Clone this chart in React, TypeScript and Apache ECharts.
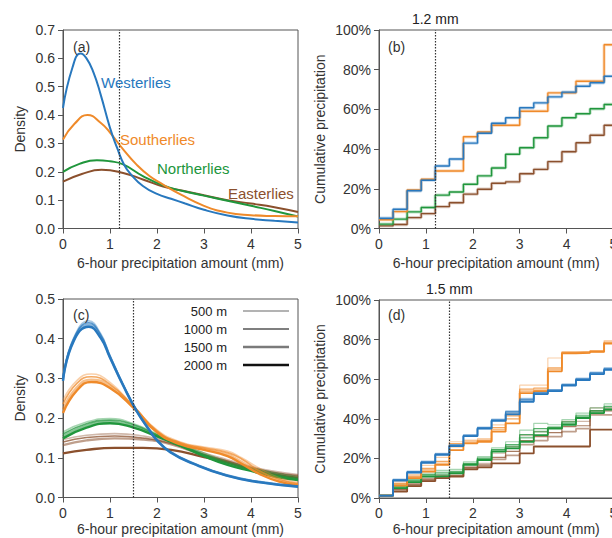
import React, { useEffect, useRef } from "react";
import * as echarts from "echarts";

// ---------- colours ----------
const C_W = "#2878be";
const C_S = "#ef8a2a";
const C_N = "#20963c";
const C_E = "#8b502d";

// ---------- panel (a): density by direction ----------
const A_W_X = [0, 0.2, 0.375, 0.5, 0.65, 0.8, 1.0, 1.15, 1.3, 1.45, 1.7, 2.0, 2.3, 2.6, 3.0, 3.5, 4.0, 4.5, 5.0];
const A_W_Y = [0.425, 0.567, 0.617, 0.6, 0.55, 0.473, 0.355, 0.285, 0.225, 0.19, 0.15, 0.122, 0.105, 0.088, 0.066, 0.046, 0.034, 0.027, 0.021];
const A_S_X = [0, 0.25, 0.52, 0.8, 1.0, 1.28, 1.56, 1.84, 2.13, 2.5, 3.0, 3.5, 4.0, 4.5, 5.0];
const A_S_Y = [0.314, 0.37, 0.4, 0.373, 0.338, 0.279, 0.226, 0.185, 0.155, 0.12, 0.08, 0.056, 0.047, 0.044, 0.043];
const A_N_X = [0, 0.35, 0.72, 1.0, 1.28, 1.7, 2.13, 2.55, 3.0, 3.5, 4.0, 4.5, 5.0];
const A_N_Y = [0.2, 0.228, 0.241, 0.237, 0.226, 0.185, 0.152, 0.132, 0.116, 0.098, 0.08, 0.062, 0.042];
const A_E_X = [0, 0.4, 0.82, 1.28, 1.7, 2.13, 2.55, 3.0, 3.5, 4.0, 4.5, 5.0];
const A_E_Y = [0.165, 0.192, 0.207, 0.196, 0.173, 0.148, 0.133, 0.117, 0.1, 0.088, 0.075, 0.058];

// ---------- panel (b): cumulative precipitation (%) per 0.3 mm bin ----------
const BIN_EDGES = [0, 0.3, 0.6, 0.9, 1.2, 1.5, 1.8, 2.1, 2.4, 2.7, 3.0, 3.3, 3.6, 3.9, 4.2, 4.5, 4.8];
const BIN_END = 5.1;
const B_W = [5.2, 9.7, 19, 24.3, 31.5, 35, 43, 48, 53, 55.8, 60.8, 63.3, 66.3, 68.7, 71.7, 73.4, 76.7];
const B_S = [4.4, 8.5, 19.4, 24.8, 29, 29, 46.2, 48.6, 52, 52, 59.1, 59.1, 68.3, 68.3, 74.2, 74.2, 92.6];
const B_N = [2.2, 4.7, 8.4, 10.6, 16.8, 18.4, 22.3, 26.5, 30.5, 37.4, 40.7, 45.7, 51.6, 55.8, 57.8, 60.3, 62.5];
const B_E = [1.3, 2, 5.5, 7.5, 11, 13, 17.3, 19.8, 22.8, 23.5, 27.6, 29.8, 33.7, 38.7, 43.2, 47, 52];

// ---------- panel (c): density by direction and height ----------
const HEIGHTS = ["500 m", "1000 m", "1500 m", "2000 m"];
const C_W_X = [0, 0.22, 0.55, 0.8, 1.0, 1.28, 1.56, 1.84, 2.0, 2.28, 2.77, 3.48, 4.19, 5.0];
const C_W_500 = [0.3, 0.4, 0.445, 0.413, 0.358, 0.285, 0.221, 0.171, 0.146, 0.116, 0.087, 0.057, 0.04, 0.029];
const C_W_1000 = [0.298, 0.398, 0.44, 0.41, 0.356, 0.284, 0.22, 0.17, 0.145, 0.115, 0.086, 0.056, 0.039, 0.028];
const C_W_1500 = [0.296, 0.395, 0.435, 0.406, 0.354, 0.283, 0.22, 0.17, 0.145, 0.115, 0.086, 0.056, 0.039, 0.028];
const C_W_2000 = [0.294, 0.392, 0.43, 0.402, 0.352, 0.282, 0.219, 0.169, 0.144, 0.114, 0.085, 0.055, 0.038, 0.027];
const C_S_X = [0, 0.3, 0.6, 1.0, 1.5, 2.0, 2.5, 3.0, 3.5, 3.8, 4.2, 4.6, 5.0];
const C_S_500 = [0.245, 0.295, 0.311, 0.29, 0.23, 0.17, 0.14, 0.127, 0.117, 0.1, 0.072, 0.05, 0.038];
const C_S_1000 = [0.235, 0.288, 0.304, 0.285, 0.23, 0.168, 0.138, 0.125, 0.113, 0.097, 0.066, 0.046, 0.035];
const C_S_1500 = [0.222, 0.278, 0.297, 0.28, 0.228, 0.166, 0.136, 0.122, 0.108, 0.09, 0.062, 0.043, 0.033];
const C_S_2000 = [0.213, 0.27, 0.291, 0.276, 0.226, 0.164, 0.134, 0.12, 0.104, 0.085, 0.058, 0.04, 0.031];
const C_N_X = [0, 0.5, 1.0, 1.5, 2.0, 2.5, 3.0, 3.5, 4.0, 4.5, 5.0];
const C_N_500 = [0.165, 0.19, 0.199, 0.186, 0.16, 0.135, 0.112, 0.09, 0.075, 0.062, 0.052];
const C_N_1000 = [0.16, 0.186, 0.195, 0.183, 0.158, 0.133, 0.108, 0.087, 0.072, 0.058, 0.048];
const C_N_1500 = [0.154, 0.181, 0.191, 0.179, 0.156, 0.131, 0.106, 0.084, 0.069, 0.055, 0.046];
const C_N_2000 = [0.149, 0.176, 0.187, 0.176, 0.154, 0.13, 0.104, 0.082, 0.067, 0.053, 0.044];
const C_E_X = [0, 0.5, 1.1, 1.7, 2.3, 3.0, 3.5, 4.0, 4.5, 5.0];
const C_E_500 = [0.146, 0.157, 0.161, 0.155, 0.14, 0.112, 0.095, 0.078, 0.066, 0.058];
const C_E_1000 = [0.14, 0.151, 0.155, 0.15, 0.136, 0.108, 0.092, 0.075, 0.063, 0.055];
const C_E_1500 = [0.132, 0.144, 0.149, 0.146, 0.134, 0.106, 0.09, 0.072, 0.06, 0.052];
const C_E_2000 = [0.111, 0.12, 0.125, 0.125, 0.12, 0.102, 0.088, 0.07, 0.058, 0.049];

// ---------- panel (d): cumulative precipitation (%) by direction and height ----------
const D_W_500 = [1.2, 9.6, 13.6, 18.6, 22.6, 27.0, 32.0, 35.8, 39.8, 44.0, 50.3, 53.4, 54.8, 57.6, 60.5, 63.6, 65.8];
const D_W_1000 = [1.2, 9.3, 13.3, 18.3, 22.3, 26.7, 31.7, 35.5, 39.5, 43.6, 49.8, 53.1, 54.5, 57.3, 60.2, 63.2, 65.4];
const D_W_1500 = [1.2, 9.0, 13.0, 18.0, 22.0, 26.4, 31.4, 35.2, 39.2, 43.0, 49.2, 52.8, 54.2, 57.0, 59.9, 62.9, 65.0];
const D_W_2000 = [1.2, 8.8, 12.8, 17.8, 21.8, 26.2, 31.2, 35.0, 39.0, 42.2, 48.6, 52.5, 54.0, 56.8, 59.6, 62.6, 64.7];
const D_S_500 = [1.2, 8.2, 11.8, 16.5, 20.5, 28.4, 29.3, 30, 36.9, 42.8, 57, 57, 70.7, 74, 74, 74.5, 79.5];
const D_S_1000 = [1.2, 7.4, 11, 15, 18.5, 27.5, 28.8, 29.2, 35.5, 41.5, 55, 55.5, 65.7, 73.5, 73.8, 74.2, 78.8];
const D_S_1500 = [1.2, 6.8, 10.5, 14.2, 17.5, 26, 28, 28.8, 34.5, 40, 54, 54.5, 65, 73.2, 73.5, 74, 78.3];
const D_S_2000 = [1.2, 6.2, 10, 13.3, 16.7, 24.2, 27.6, 28.4, 33.5, 37.7, 53, 54, 64, 73, 73.3, 73.8, 78];
const D_N_500 = [1.2, 6.6, 9.5, 12.6, 14, 14.5, 18.3, 20.9, 25.3, 28.4, 34.3, 37.7, 37, 39.6, 42.9, 45.5, 47.5];
const D_N_1000 = [1.2, 6.0, 9.0, 11.8, 13, 13.5, 17.5, 20.2, 24.5, 27, 32, 35, 35.8, 38.5, 41.8, 44.2, 46.3];
const D_N_1500 = [1.2, 5.5, 8.5, 11.2, 12, 13, 17, 19.8, 24, 26, 30.5, 33.5, 35.4, 37.8, 41, 43.5, 45.2];
const D_N_2000 = [1.2, 5.0, 8.0, 10.8, 11, 12.5, 16.7, 19.2, 23.4, 25.1, 28.4, 31.8, 35, 37, 40.4, 42.9, 44.6];
const D_E_500 = [1.2, 4.9, 7.2, 10, 11.5, 11.6, 15.8, 17.5, 22.6, 25.9, 31.8, 33.5, 35.4, 38.7, 38.7, 45.5, 45.5];
const D_E_1000 = [1.2, 4.3, 7, 9.5, 11, 11.5, 15.3, 16.8, 20.5, 23.5, 29, 31, 33, 36, 36.5, 44, 44];
const D_E_1500 = [1.2, 3.8, 6.5, 9, 10.5, 11, 15, 16.2, 19.5, 21.5, 27, 29, 31, 33.5, 35, 42, 42];
const D_E_2000 = [1.2, 3.2, 6, 8.5, 10, 10.8, 14.5, 15.5, 17.5, 17.5, 22.5, 26, 26, 26, 26, 34.5, 34.5];

const THRESH_TOP = 1.2;
const THRESH_BOTTOM = 1.5;
const X_NAME = "6-hour precipitation amount (mm)";

const FONT = '"Liberation Sans", Arial, Helvetica, sans-serif';
const AXIS_COLOR = "#555";
const TEXT_COLOR = "#333";

// height styles: opacity + width (500, 1000, 1500, 2000 m)
const H_OPACITY = [0.4, 0.75, 0.55, 1.0];
const H_WIDTH = [1.6, 1.6, 2.4, 2.4];
const LEGEND_COLORS = ["#9a9a9a", "#555555", "#7a7a7a", "#111111"];

function pairs(xs: number[], ys: number[]) {
  return xs.map((x, i) => [x, ys[i]]);
}
function steps(vals: number[]) {
  const d = BIN_EDGES.map((x, i) => [x, vals[i]]);
  d.push([BIN_END, vals[vals.length - 1]]);
  return d;
}

function xAxisCfg(idx: number, gap: number) {
  return {
    type: "value",
    gridIndex: idx,
    min: 0,
    max: 5,
    interval: 1,
    name: X_NAME,
    nameLocation: "middle",
    nameGap: gap,
    nameTextStyle: { fontSize: 14, color: TEXT_COLOR, fontFamily: FONT },
    axisLine: { show: true, onZero: false, lineStyle: { color: AXIS_COLOR, width: 1 } },
    axisTick: { show: true, length: 5, lineStyle: { color: AXIS_COLOR } },
    axisLabel: { fontSize: 14, color: TEXT_COLOR, margin: 8, fontFamily: FONT },
    splitLine: { show: false },
  };
}
function yAxisDensity(idx: number, max: number) {
  return {
    type: "value",
    gridIndex: idx,
    min: 0,
    max,
    interval: 0.1,
    name: "Density",
    nameLocation: "middle",
    nameGap: 36,
    nameTextStyle: { fontSize: 14, color: TEXT_COLOR, fontFamily: FONT },
    axisLine: { show: true, lineStyle: { color: AXIS_COLOR, width: 1 } },
    axisTick: { show: true, length: 5, lineStyle: { color: AXIS_COLOR } },
    axisLabel: { fontSize: 14, color: TEXT_COLOR, margin: 8, fontFamily: FONT, formatter: (v: number) => v.toFixed(1) },
    splitLine: { show: false },
  };
}
function yAxisCum(idx: number) {
  return {
    type: "value",
    gridIndex: idx,
    min: 0,
    max: 100,
    interval: 20,
    name: "Cumulative precipitation",
    nameLocation: "middle",
    nameGap: 52,
    nameTextStyle: { fontSize: 14, color: TEXT_COLOR, fontFamily: FONT },
    axisLine: { show: true, lineStyle: { color: AXIS_COLOR, width: 1 } },
    axisTick: { show: true, length: 5, lineStyle: { color: AXIS_COLOR } },
    axisLabel: { fontSize: 14, color: TEXT_COLOR, margin: 8, fontFamily: FONT, formatter: "{value}%" },
    splitLine: { show: false },
  };
}

function markLine(x: number, label: string | null) {
  return {
    silent: true,
    symbol: ["none", "none"],
    lineStyle: { color: "#333", type: [1.5, 1.5], width: 1.2 },
    label: label
      ? { show: true, position: "end", formatter: label, fontSize: 14, color: "#222", fontFamily: FONT, distance: 4 }
      : { show: false },
    data: [{ xAxis: x }],
  };
}

function smoothLine(idx: number, data: number[][], color: string, width: number, opacity: number, ml?: any) {
  return {
    type: "line",
    xAxisIndex: idx,
    yAxisIndex: idx,
    data,
    smooth: 0.5,
    showSymbol: false,
    symbol: "none",
    lineStyle: { color, width, opacity },
    itemStyle: { color },
    markLine: ml,
  };
}
function stepLine(idx: number, data: number[][], color: string, width: number, opacity: number, ml?: any) {
  return {
    type: "line",
    xAxisIndex: idx,
    yAxisIndex: idx,
    data,
    step: "end",
    showSymbol: false,
    symbol: "none",
    lineStyle: { color, width, opacity },
    itemStyle: { color },
    markLine: ml,
  };
}

function buildOption() {
  const series: any[] = [];
  // (a)
  series.push(smoothLine(0, pairs(A_E_X, A_E_Y), C_E, 2, 1, markLine(THRESH_TOP, null)));
  series.push(smoothLine(0, pairs(A_N_X, A_N_Y), C_N, 2, 1));
  series.push(smoothLine(0, pairs(A_S_X, A_S_Y), C_S, 2, 1));
  series.push(smoothLine(0, pairs(A_W_X, A_W_Y), C_W, 2, 1));
  // (b)
  const bSets: [number[], string][] = [[B_E, C_E], [B_N, C_N], [B_S, C_S], [B_W, C_W]];
  bSets.forEach(([v, c], i) => {
    series.push(stepLine(1, steps(v), c, 3.2, 0.28, i === 0 ? markLine(THRESH_TOP, THRESH_TOP + " mm") : undefined));
    series.push(stepLine(1, steps(v), c, 1.4, 1));
  });
  // (c)
  const cSets: [number[], number[][], string][] = [
    [C_E_X, [C_E_500, C_E_1000, C_E_1500, C_E_2000], C_E],
    [C_N_X, [C_N_500, C_N_1000, C_N_1500, C_N_2000], C_N],
    [C_S_X, [C_S_500, C_S_1000, C_S_1500, C_S_2000], C_S],
    [C_W_X, [C_W_500, C_W_1000, C_W_1500, C_W_2000], C_W],
  ];
  cSets.forEach(([xs, sets, c], i) => {
    sets.forEach((ys, h) => {
      series.push(
        smoothLine(2, pairs(xs, ys), c, H_WIDTH[h], H_OPACITY[h], i === 0 && h === 0 ? markLine(THRESH_BOTTOM, null) : undefined)
      );
    });
  });
  // (d)
  const dSets: [number[][], string][] = [
    [[D_E_500, D_E_1000, D_E_1500, D_E_2000], C_E],
    [[D_N_500, D_N_1000, D_N_1500, D_N_2000], C_N],
    [[D_S_500, D_S_1000, D_S_1500, D_S_2000], C_S],
    [[D_W_500, D_W_1000, D_W_1500, D_W_2000], C_W],
  ];
  dSets.forEach(([sets, c], i) => {
    sets.forEach((v, h) => {
      series.push(
        stepLine(3, steps(v), c, H_WIDTH[h] * 0.75, H_OPACITY[h], i === 0 && h === 0 ? markLine(THRESH_BOTTOM, THRESH_BOTTOM + " mm") : undefined)
      );
    });
  });

  const txt = (text: string, x: number, y: number, fill: string, size: number, align = "left") => ({
    type: "text",
    x,
    y,
    silent: true,
    z: 100,
    style: {
      text,
      fill,
      font: `${size}px ${FONT}`,
      textAlign: align,
      textVerticalAlign: "middle",
      align,
      verticalAlign: "middle",
    },
  });

  const graphic: any[] = [
    txt("(a)", 73, 47, TEXT_COLOR, 14),
    txt("(b)", 388, 47, TEXT_COLOR, 14),
    txt("(c)", 73, 315, TEXT_COLOR, 14),
    txt("(d)", 388, 315, TEXT_COLOR, 14),
    txt("Westerlies", 101, 82, C_W, 15),
    txt("Southerlies", 120, 139, C_S, 15),
    txt("Northerlies", 157, 168, C_N, 15),
    txt("Easterlies", 228, 193, C_E, 15),
  ];
  const legY = [311, 329, 347, 365];
  HEIGHTS.forEach((h, i) => {
    graphic.push(txt(h, 227, legY[i], "#222", 13, "right"));
    graphic.push({
      type: "line",
      silent: true,
      z: 100,
      shape: { x1: 243, y1: legY[i], x2: 289, y2: legY[i] },
      style: { stroke: LEGEND_COLORS[i], lineWidth: H_WIDTH[i] },
    });
  });

  const gridStyle = {
    show: true,
    borderColor: AXIS_COLOR,
    borderWidth: 1,
    backgroundColor: "transparent",
    containLabel: false,
    outerBoundsMode: "none",
  };
  return {
    animation: false,
    textStyle: { fontFamily: FONT },
    grid: [
      { left: 63, top: 30, width: 235, height: 198.5, ...gridStyle },
      { left: 379, top: 30, width: 234.5, height: 198.5, ...gridStyle },
      { left: 63, top: 299, width: 235, height: 198.5, ...gridStyle },
      { left: 379, top: 300, width: 234.5, height: 198, ...gridStyle },
    ],
    xAxis: [xAxisCfg(0, 27), xAxisCfg(1, 27), xAxisCfg(2, 24), xAxisCfg(3, 24)],
    yAxis: [yAxisDensity(0, 0.7), yAxisCum(1), yAxisDensity(2, 0.5), yAxisCum(3)],
    series,
    graphic,
  };
}

export default function App() {
  const ref = useRef<HTMLDivElement>(null);
  useEffect(() => {
    if (!ref.current) return;
    const chart = echarts.init(ref.current, null, { renderer: "svg" });
    chart.setOption(buildOption() as any);
    return () => chart.dispose();
  }, []);
  return (
    <div
      ref={ref}
      style={{ position: "absolute", left: 0, top: 0, width: 612, height: 538, background: "#fff" }}
    />
  );
}
